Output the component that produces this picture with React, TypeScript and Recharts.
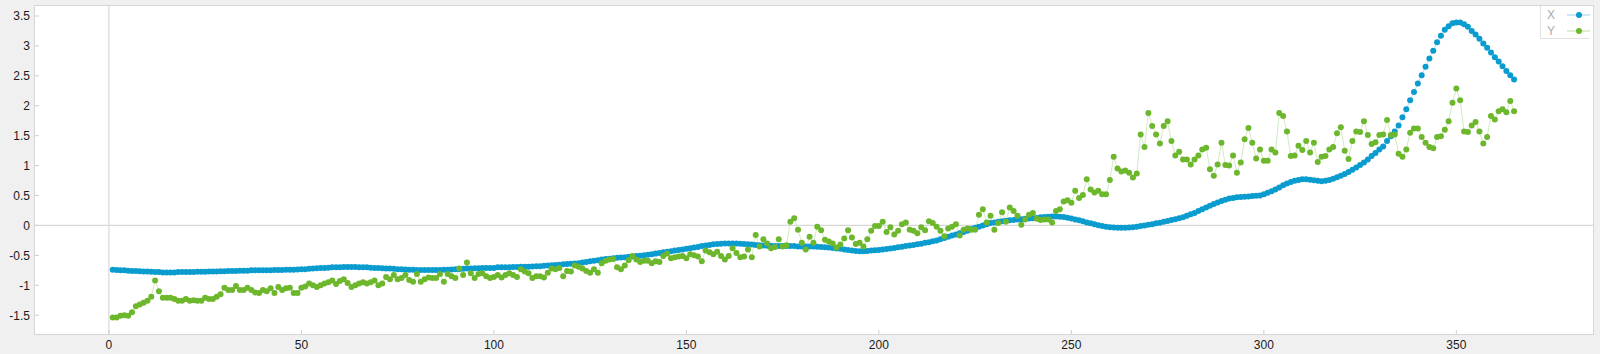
import { LineChart, Line, XAxis, YAxis, ReferenceLine } from 'recharts';

// daily readings, day 1..365
const seriesX = [
  -0.74, -0.745, -0.75, -0.75, -0.755, -0.76, -0.76, -0.765, -0.77, -0.77,
  -0.775, -0.78, -0.78, -0.785, -0.785, -0.785, -0.785, -0.78, -0.78, -0.78,
  -0.78, -0.78, -0.775, -0.775, -0.775, -0.77, -0.77, -0.77, -0.765, -0.765,
  -0.76, -0.76, -0.76, -0.755, -0.755, -0.755, -0.75, -0.75, -0.75, -0.75,
  -0.75, -0.75, -0.745, -0.745, -0.745, -0.74, -0.74, -0.74, -0.735, -0.73,
  -0.73, -0.725, -0.72, -0.715, -0.71, -0.71, -0.705, -0.7, -0.7, -0.7,
  -0.695, -0.695, -0.695, -0.695, -0.7, -0.7, -0.7, -0.705, -0.71,
  -0.71, -0.715, -0.72, -0.72, -0.725, -0.73, -0.73, -0.735, -0.74, -0.74,
  -0.745, -0.745, -0.745, -0.745, -0.745, -0.745, -0.745, -0.74, -0.74, -0.735,
  -0.73, -0.73, -0.725, -0.72, -0.72, -0.715, -0.715, -0.71, -0.71, -0.71,
  -0.71, -0.7, -0.7, -0.7, -0.7, -0.695, -0.695, -0.69, -0.69, -0.69,
  -0.685, -0.68, -0.68, -0.675, -0.67, -0.665, -0.66, -0.655, -0.65, -0.645,
  -0.64, -0.635, -0.63, -0.62, -0.61, -0.6, -0.59, -0.58, -0.57, -0.56,
  -0.555, -0.55, -0.54, -0.535, -0.53, -0.525, -0.52, -0.51, -0.505, -0.5,
  -0.49, -0.48, -0.47, -0.46, -0.45, -0.44, -0.43, -0.42, -0.41, -0.4,
  -0.39, -0.38, -0.37, -0.36, -0.345, -0.335, -0.325, -0.315, -0.31, -0.305,
  -0.3, -0.3, -0.3, -0.3, -0.305, -0.31, -0.315, -0.32, -0.325, -0.33,
  -0.335, -0.34, -0.34, -0.345, -0.345, -0.345, -0.345, -0.345, -0.345, -0.35,
  -0.35, -0.35, -0.35, -0.35, -0.355, -0.36, -0.365, -0.37, -0.375, -0.385,
  -0.39, -0.4, -0.41, -0.42, -0.425, -0.43, -0.43, -0.425, -0.42, -0.415,
  -0.41, -0.4, -0.395, -0.385, -0.375, -0.365, -0.355, -0.345, -0.335, -0.325,
  -0.315, -0.305, -0.29, -0.28, -0.265, -0.25, -0.23, -0.21, -0.19, -0.17,
  -0.15, -0.13, -0.11, -0.09, -0.06, -0.04, -0.02, 0.0, 0.02, 0.04,
  0.05, 0.06, 0.07, 0.08, 0.085, 0.09, 0.1, 0.105, 0.11, 0.115,
  0.12, 0.125, 0.135, 0.14, 0.145, 0.15, 0.15, 0.145, 0.14, 0.13,
  0.115, 0.1, 0.085, 0.07, 0.05, 0.035, 0.02, 0.005, -0.01, -0.02,
  -0.03, -0.035, -0.04, -0.04, -0.04, -0.035, -0.03, -0.02, -0.01, 0.0,
  0.01, 0.02, 0.035, 0.045, 0.06, 0.075, 0.09, 0.105, 0.12, 0.135,
  0.16, 0.185, 0.21, 0.24, 0.27, 0.3, 0.33, 0.36, 0.385, 0.41,
  0.43, 0.45, 0.46, 0.47, 0.475, 0.48, 0.485, 0.49, 0.495, 0.5,
  0.52, 0.545, 0.57, 0.6, 0.635, 0.67, 0.7, 0.725, 0.745, 0.76,
  0.77, 0.77, 0.765, 0.755, 0.745, 0.74, 0.745, 0.76, 0.78, 0.805,
  0.83, 0.86, 0.895, 0.93, 0.97, 1.01,
  1.05, 1.1, 1.16, 1.21, 1.27, 1.32, 1.41, 1.49, 1.57, 1.67,
  1.81, 1.94, 2.09, 2.23, 2.37, 2.51, 2.65, 2.79, 2.92, 3.06,
  3.17, 3.27, 3.33, 3.38, 3.39, 3.39, 3.36, 3.32, 3.25, 3.19,
  3.12, 3.04, 2.97, 2.89, 2.81, 2.74, 2.66, 2.58, 2.51, 2.44,
];

const seriesY = [
  -1.54, -1.54, -1.51, -1.5, -1.51, -1.45, -1.35, -1.32, -1.29, -1.26,
  -1.19, -0.92, -1.1, -1.21, -1.21, -1.21, -1.23, -1.26, -1.26, -1.23,
  -1.26, -1.25, -1.26, -1.26, -1.21, -1.23, -1.23, -1.19, -1.15, -1.04,
  -1.08, -1.08, -1.01, -1.08, -1.08, -1.04, -1.08, -1.12, -1.13, -1.08,
  -1.1, -1.05, -1.13, -1.03, -1.08, -1.05, -1.04, -1.13, -1.13, -1.04,
  -1.02, -0.97, -1.0, -1.03, -1.0, -0.97, -0.95, -0.92, -0.98, -0.93,
  -0.9, -0.96, -1.03, -1.0, -0.97, -0.95, -0.97, -0.95, -0.92, -1.0,
  -0.97, -0.86, -0.9, -0.83, -0.9, -0.88, -0.83, -0.91, -0.94, -0.81,
  -0.94, -0.9, -0.87, -0.88, -0.88, -0.81, -0.94, -0.81, -0.85, -0.88,
  -0.72, -0.83, -0.62, -0.8, -0.88, -0.81, -0.8, -0.85, -0.88, -0.86,
  -0.83, -0.87, -0.83, -0.8, -0.83, -0.86, -0.73, -0.77, -0.8, -0.88,
  -0.85, -0.85, -0.87, -0.79, -0.72, -0.73, -0.71, -0.85, -0.76, -0.77,
  -0.67, -0.69, -0.72, -0.76, -0.79, -0.73, -0.79, -0.63, -0.59, -0.57,
  -0.56, -0.7, -0.73, -0.67, -0.58, -0.51, -0.57, -0.61, -0.59, -0.59,
  -0.63, -0.6, -0.61, -0.51, -0.47, -0.55, -0.53, -0.52, -0.51, -0.55,
  -0.48, -0.5, -0.52, -0.6, -0.42, -0.45, -0.48, -0.44, -0.51, -0.57,
  -0.51, -0.38, -0.46, -0.53, -0.52, -0.4, -0.53, -0.16, -0.35, -0.23,
  -0.3, -0.38, -0.36, -0.23, -0.35, -0.33, 0.06, 0.12, -0.07, -0.29,
  -0.4, -0.19, -0.29, -0.02, -0.08, -0.24, -0.27, -0.3, -0.37, -0.32,
  -0.22, -0.08, -0.2, -0.31, -0.29, -0.35, -0.23, -0.09, -0.01, -0.01,
  0.06, -0.11, -0.03, -0.15, -0.09, 0.02, 0.05, -0.07, -0.09, -0.13,
  -0.03, -0.08, 0.07, 0.04, -0.02, -0.09, -0.18, -0.05, -0.02, 0.02,
  -0.17, -0.07, -0.05, -0.07, -0.07, 0.18, 0.27, 0.05, 0.16, -0.07,
  0.04, 0.22, 0.06, 0.3, 0.24, 0.16, 0.01, 0.1, 0.18, 0.21,
  0.11, 0.09, 0.1, 0.1, 0.05, 0.24, 0.27, 0.4, 0.42, 0.38,
  0.58, 0.46, 0.51, 0.77, 0.6, 0.55, 0.58, 0.52, 0.52, 0.76,
  1.15, 0.95, 0.9, 0.92, 0.88, 0.8, 0.87, 1.52, 1.31, 1.88,
  1.66, 1.52, 1.37, 1.66, 1.74, 1.41, 1.17, 1.23, 1.1, 1.1,
  1.02, 1.1, 1.17, 1.27, 1.3, 0.94, 0.83, 1.02, 1.38, 1.01,
  1.0, 1.17, 0.88, 1.05, 1.44, 1.63, 1.38, 1.12, 1.27, 1.08,
  1.08, 1.27, 1.22, 1.88, 1.83, 1.57, 1.16, 1.17, 1.33, 1.26,
  1.41, 1.22, 1.38, 1.06, 1.15, 1.16, 1.27, 1.31, 1.54, 1.64,
  1.25, 1.11, 1.41, 1.57, 1.56, 1.74, 1.51, 1.36, 1.39, 1.51,
  1.52, 1.76, 1.51, 1.52, 1.2, 1.15, 1.27, 1.55, 1.62, 1.62,
  1.48, 1.38, 1.31, 1.29, 1.48, 1.49, 1.6, 1.74, 2.05, 2.29,
  2.09, 1.57, 1.56, 1.67, 1.73, 1.57, 1.37, 1.48, 1.83, 1.77,
  1.91, 1.94, 1.89, 2.08, 1.91,
];

const xTicks = [0, 50, 100, 150, 200, 250, 300, 350];
const yTicks = [-1.5, -1, -0.5, 0, 0.5, 1, 1.5, 2, 2.5, 3, 3.5];

const data = seriesX.map((v, i) => ({ day: i + 1, X: v, Y: seriesY[i] }));

const BLUE = '#0b9ccf';
const BLUE_LINE = '#bfe2f1';
const GREEN = '#6db72c';
const GREEN_LINE = '#d3eac2';
const FONT = '"Liberation Sans", Arial, sans-serif';

const PLOT_LEFT = 35;
const PLOT_BOTTOM = 334;

function YTick({ y, payload }: any) {
  return (
    <g>
      <line x1={PLOT_LEFT} x2={PLOT_LEFT + 4} y1={y} y2={y} stroke="#cfcfcf" />
      <text x={30} y={y} dy={4.3} textAnchor="end" fontSize={12} fontFamily={FONT} fill="#1a1a1a">
        {payload.value}
      </text>
    </g>
  );
}

function XTick({ x, payload }: any) {
  return (
    <g>
      <line x1={x} x2={x} y1={PLOT_BOTTOM - 4} y2={PLOT_BOTTOM} stroke="#cfcfcf" />
      <text x={x} y={349} textAnchor="middle" fontSize={12} fontFamily={FONT} fill="#1a1a1a">
        {payload.value}
      </text>
    </g>
  );
}

function LegendRow({ label, dot, line }: { label: string; dot: string; line: string }) {
  return (
    <div style={{ display: 'flex', alignItems: 'center', height: 16 }}>
      <span style={{ width: 20, paddingLeft: 6, color: '#ababab', fontSize: 12, fontFamily: FONT }}>
        {label}
      </span>
      <svg width={26} height={16}>
        <line x1={1} x2={25} y1={8} y2={8} stroke={line} strokeWidth={1.5} />
        <circle cx={13} cy={8} r={3} fill={dot} />
      </svg>
    </div>
  );
}

export default function App() {
  return (
    <div
      style={{
        position: 'absolute',
        left: 0,
        top: 0,
        width: 1600,
        height: 354,
        background: '#f0f0f0',
        overflow: 'hidden',
      }}
    >
      <div
        style={{
          position: 'absolute',
          left: 34,
          top: 5,
          width: 1558,
          height: 328,
          background: '#fff',
          border: '1px solid #d6d6d6',
        }}
      />
      <div style={{ position: 'absolute', left: 0, top: 0 }}>
        <LineChart width={1600} height={354} data={data} margin={{ top: 6, right: 7, bottom: 0, left: 0 }}>
          <XAxis
            type="number"
            dataKey="day"
            domain={[-19.2, 385.5]}
            ticks={xTicks}
            interval={0}
            height={20}
            axisLine={false}
            tickLine={false}
            tick={<XTick />}
          />
          <YAxis
            type="number"
            domain={[-1.814, 3.667]}
            ticks={yTicks}
            interval={0}
            width={35}
            axisLine={false}
            tickLine={false}
            tick={<YTick />}
          />
          <ReferenceLine x={0} stroke="#d8d8d8" strokeWidth={1.2} />
          <ReferenceLine y={0} stroke="#d8d8d8" strokeWidth={1.2} />
          <Line
            dataKey="X"
            type="linear"
            stroke={BLUE_LINE}
            strokeWidth={1}
            dot={{ r: 3, fill: BLUE, stroke: 'none' }}
            activeDot={false}
            isAnimationActive={false}
          />
          <Line
            dataKey="Y"
            type="linear"
            stroke={GREEN_LINE}
            strokeWidth={1}
            dot={{ r: 3, fill: GREEN, stroke: 'none' }}
            activeDot={false}
            isAnimationActive={false}
          />
        </LineChart>
      </div>
      <div
        style={{
          position: 'absolute',
          left: 1540,
          top: 6,
          width: 50,
          height: 33,
          background: '#fff',
          borderLeft: '1px solid #e2e2e2',
          borderBottom: '1px solid #e2e2e2',
          paddingTop: 1,
          boxSizing: 'border-box',
        }}
      >
        <LegendRow label="X" dot={BLUE} line={BLUE_LINE} />
        <LegendRow label="Y" dot={GREEN} line={GREEN_LINE} />
      </div>
    </div>
  );
}
